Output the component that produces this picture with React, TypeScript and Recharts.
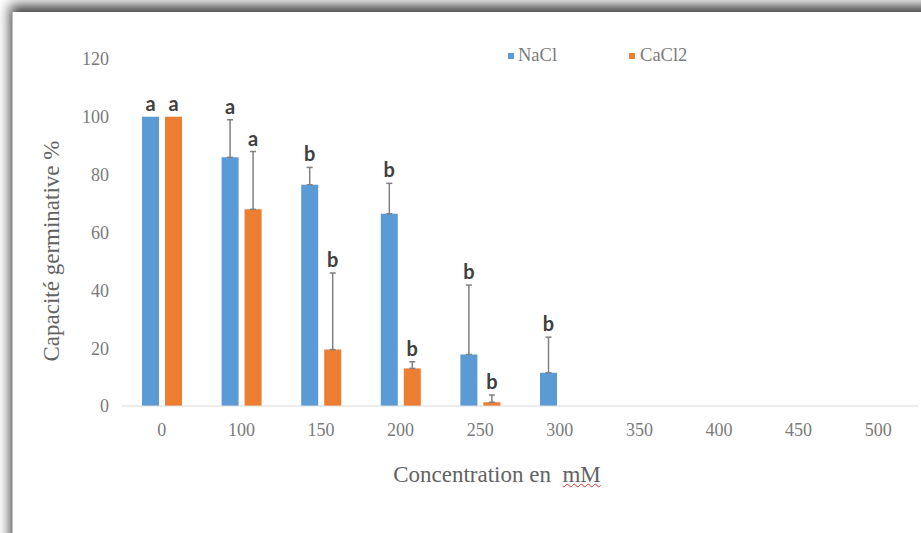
import { Bar, BarChart, ErrorBar, LabelList, Legend, XAxis, YAxis } from "recharts";

const categories = ["0", "100", "150", "200", "250", "300", "350", "400", "450", "500"];
const nacl = [100, 86, 76.5, 66.5, 17.8, 11.5, 0, 0, 0, 0];
const cacl2 = [100, 68, 19.5, 13, 1.3, 0, 0, 0, 0, 0];
const naclErr = [null, 13, 6, 10.5, 24, 12.3, null, null, null, null];
const cacl2Err = [null, 20, 26.5, 2.3, 2.5, null, null, null, null, null];
const naclLetters = ["a", "a", "b", "b", "b", "b", "", "", "", ""];
const cacl2Letters = ["a", "a", "b", "b", "b", "", "", "", "", ""];
const yTicks = [0, 20, 40, 60, 80, 100, 120];

const data = categories.map((c, i) => ({
  conc: c,
  NaCl: nacl[i],
  CaCl2: cacl2[i],
  naclErr: naclErr[i] == null ? null : [0, naclErr[i]],
  cacl2Err: cacl2Err[i] == null ? null : [0, cacl2Err[i]],
}));

const BLUE = "#5B9BD5";
const ORANGE = "#ED7D31";
const TEXT = "#636363";
const TICK = "#7a7a7a";
const SERIF = "'Liberation Serif', 'Times New Roman', serif";

const letterLabel = (letters: string[], errs: (number | null)[]) => (props: any) => {
  const { x, y, width, height, value, index } = props;
  const letter = letters[index];
  if (!letter || !value) return null;
  const perUnit = height / value;
  const top = y - (errs[index] || 0) * perUnit;
  return (
    <text
      x={x + width / 2}
      y={top - 6}
      textAnchor="middle"
      fontFamily="Lato, 'Noto Sans', sans-serif"
      fontWeight={700}
      fontSize={20}
      fill="#404040"
    >
      {letter}
    </text>
  );
};

const legendContent = () => (
  <div style={{ display: "flex", fontFamily: SERIF, fontSize: 18.5, color: TICK }}>
    <div style={{ display: "flex", alignItems: "center", marginRight: 72 }}>
      <span style={{ width: 6, height: 6, background: BLUE, marginRight: 4 }} />
      NaCl
    </div>
    <div style={{ display: "flex", alignItems: "center" }}>
      <span style={{ width: 6, height: 6, background: ORANGE, marginRight: 5 }} />
      CaCl2
    </div>
  </div>
);

export default function App() {
  return (
    <div style={{ position: "relative", width: 921, height: 533, overflow: "hidden", background: "#fff" }}>
      <style>{"body{margin:0}"}</style>
      <div
        style={{
          position: "absolute",
          left: 12,
          top: 12,
          width: 960,
          height: 600,
          background: "#fff",
          borderLeft: "1px solid #c0c0c0",
          boxShadow: "-2px -7px 12px rgba(0,0,0,0.75)",
        }}
      />
      <div style={{ position: "absolute", left: 0, top: 0 }}>
        <BarChart
          width={921}
          height={533}
          data={data}
          margin={{ top: 59, right: 3, bottom: 97, left: 0 }}
          barSize={17}
          barGap={6}
        >
          <XAxis
            dataKey="conc"
            axisLine={{ stroke: "#d9d9d9" }}
            tickLine={false}
            tickSize={0}
            tickMargin={17}
            tick={{ fill: TICK, fontSize: 18, fontFamily: SERIF }}
            interval={0}
          />
          <YAxis
            width={122}
            domain={[0, 120]}
            ticks={yTicks}
            axisLine={false}
            tickLine={false}
            tickSize={0}
            tickMargin={13}
            tick={{ fill: TICK, fontSize: 18, fontFamily: SERIF }}
          />
          <Legend
            verticalAlign="middle"
            content={legendContent}
            wrapperStyle={{ top: 45, left: 508, width: "auto" }}
          />
          <Bar dataKey="NaCl" fill={BLUE} isAnimationActive={false}>
            <ErrorBar dataKey="naclErr" width={3} stroke="#808080" strokeWidth={1.5} direction="y" />
            <LabelList dataKey="NaCl" content={letterLabel(naclLetters, naclErr)} />
          </Bar>
          <Bar dataKey="CaCl2" fill={ORANGE} isAnimationActive={false}>
            <ErrorBar dataKey="cacl2Err" width={3} stroke="#808080" strokeWidth={1.5} direction="y" />
            <LabelList dataKey="CaCl2" content={letterLabel(cacl2Letters, cacl2Err)} />
          </Bar>
        </BarChart>
      </div>
      <div
        style={{
          position: "absolute",
          left: 52,
          top: 251,
          transform: "translate(-50%, -50%) rotate(-90deg)",
          whiteSpace: "nowrap",
          fontFamily: SERIF,
          fontSize: 23,
          color: TEXT,
        }}
      >
        Capacité germinative %
      </div>
      <div
        style={{
          position: "absolute",
          left: 497,
          top: 462,
          transform: "translateX(-50%)",
          whiteSpace: "pre",
          fontFamily: SERIF,
          fontSize: 23,
          lineHeight: "26px",
          color: TEXT,
        }}
      >
        {"Concentration en  "}
        <span style={{ textDecoration: "underline wavy #e03030", textDecorationThickness: 1 }}>mM</span>
      </div>
    </div>
  );
}
